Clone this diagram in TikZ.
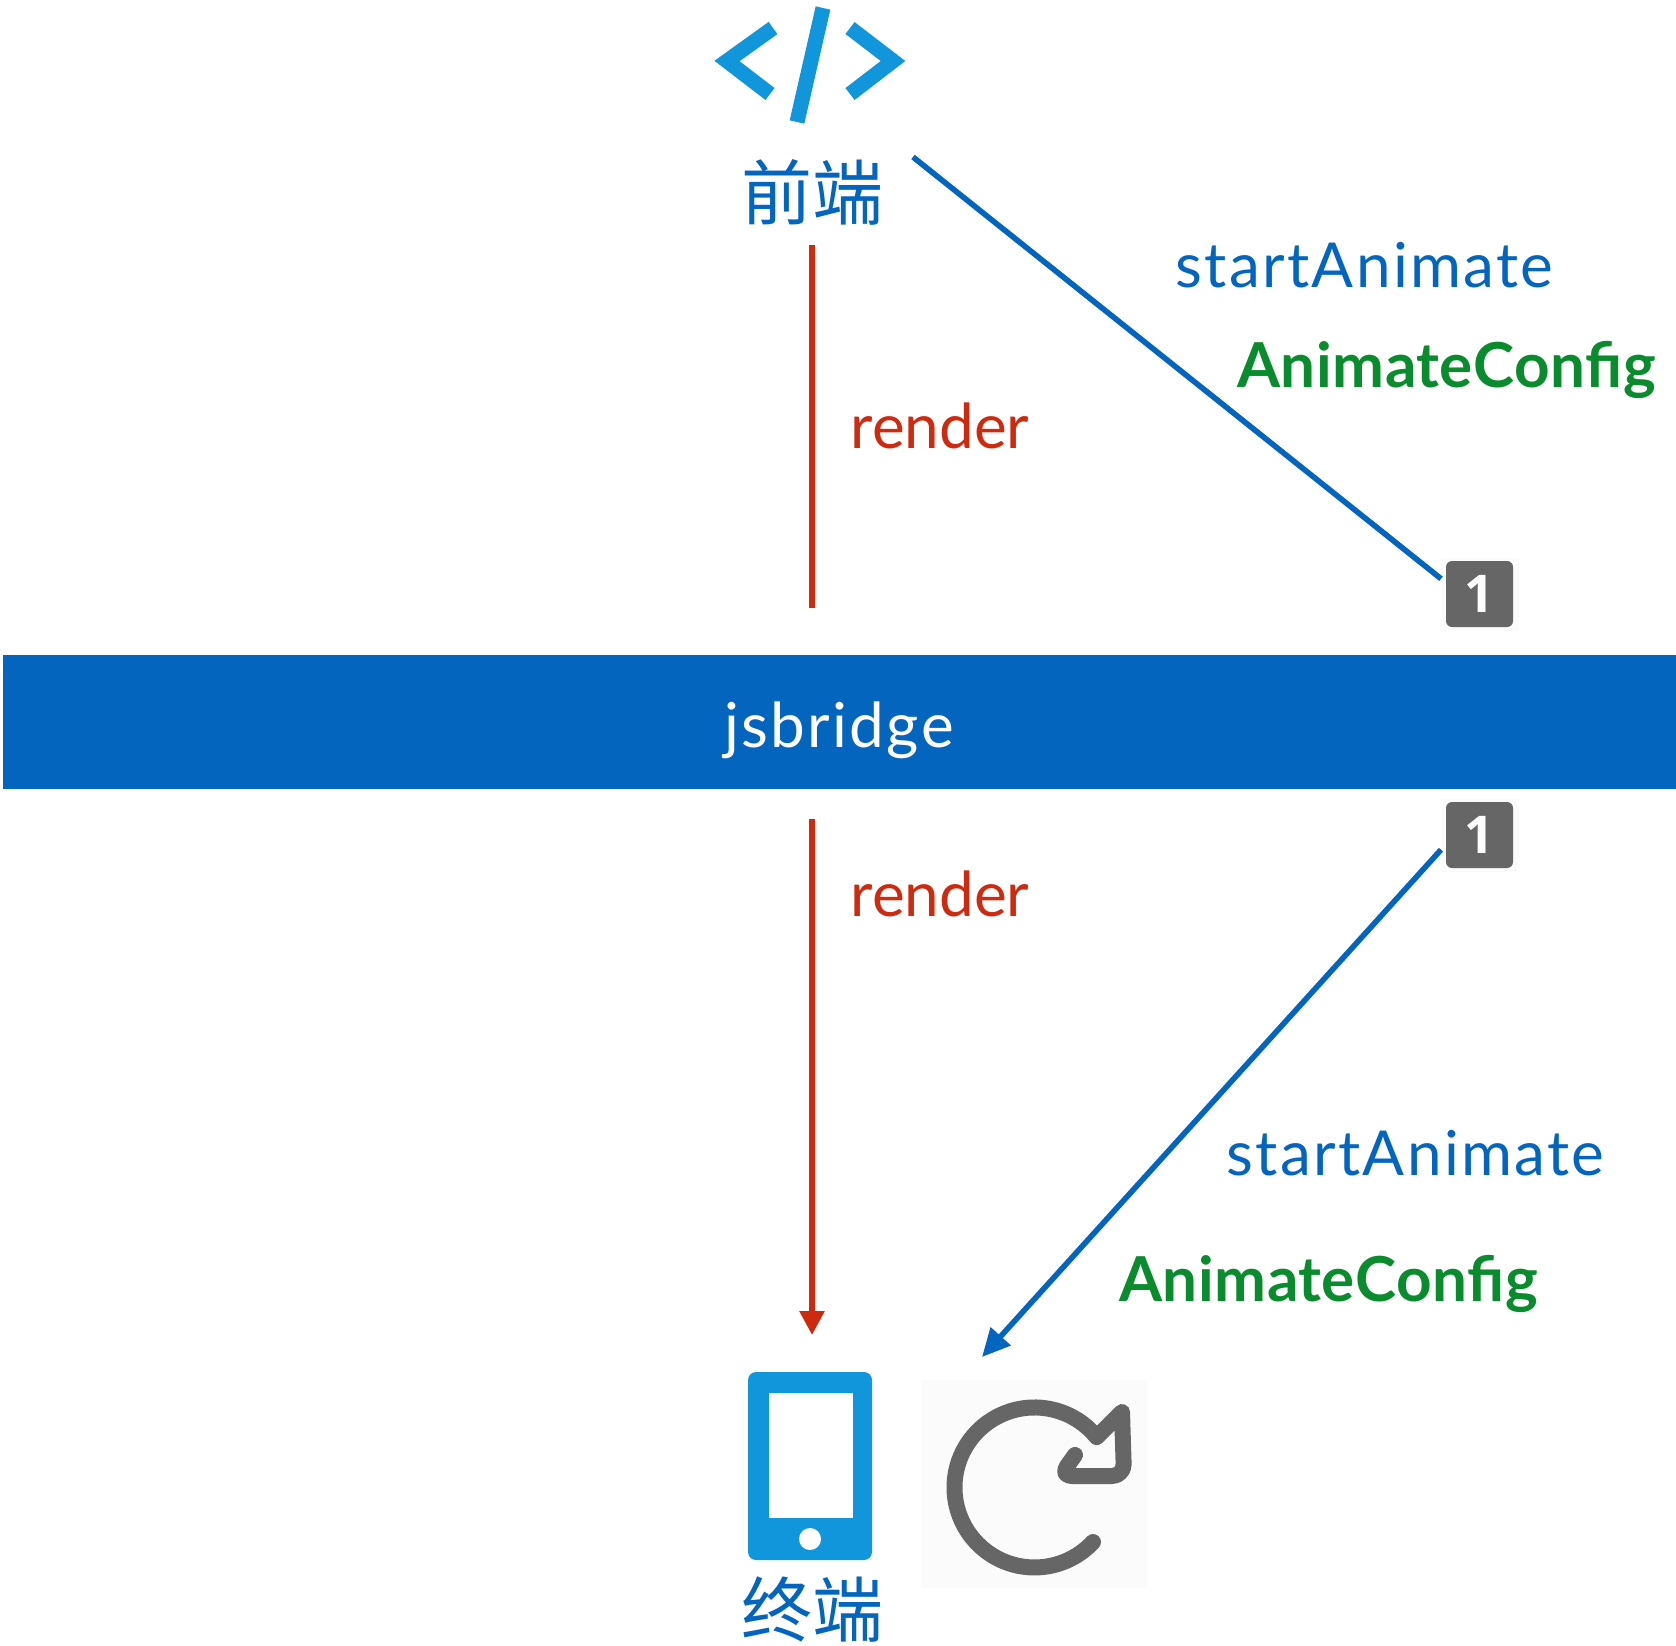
\documentclass[tikz,border=0pt]{standalone}
\usepackage{fontspec}
\setmainfont{Lato}
\newfontfamily\cjkfont{Noto Sans CJK SC}
\newfontfamily\spacedfont[LetterSpace=3.8]{Lato}
\newfontfamily\configfont[LetterSpace=0.8]{Lato}
\newfontfamily\digitfont{Open Sans}
\usetikzlibrary{arrows.meta}
\definecolor{barblue}{HTML}{0465BF}
\definecolor{iconblue}{HTML}{1296DB}
\definecolor{renderred}{HTML}{CD2A10}
\definecolor{configgreen}{HTML}{0A8C2E}
\definecolor{badgegray}{HTML}{666666}
\definecolor{faintbg}{HTML}{FBFBFB}
\tikzset{
  call_txt/.style={text=barblue, font=\spacedfont\fontsize{31}{31}\selectfont},
  render_txt/.style={text=renderred, font=\fontsize{31}{31}\selectfont},
  config_txt/.style={text=configgreen, font=\configfont\bfseries\fontsize{31}{31}\selectfont},
  end_txt/.style={text=barblue, font=\cjkfont\fontsize{35.5}{35.5}\selectfont},
  render_line/.style={draw=renderred, line width=2.8pt},
  call_line/.style={draw=barblue, line width=2.8pt},
  badge_bg/.style={fill=faintbg, minimum width=39pt, minimum height=36.5pt},
  badge_in/.style={fill=badgegray, rounded corners=3pt, minimum width=33.5pt, minimum height=33pt,
    text=white, font=\digitfont\bfseries\fontsize{26}{26}\selectfont},
  icon_line/.style={draw=iconblue, line width=7.5pt},
  reload_line/.style={draw=badgegray, line width=8pt, line cap=round, line join=round}
}
\begin{document}
\begin{tikzpicture}[
    x=0.5pt, y=-0.5pt,
    every node/.style={inner sep=0pt, outer sep=0pt}
  ]
  \useasboundingbox (0,0) rectangle (1676,1645);
  % middle bar
  \node (bar) [fill=barblue, minimum width=836.5pt, minimum height=67pt] at (839.5,722) {};
  \node (bar_txt) [text=white, font=\spacedfont\fontsize{31}{31}\selectfont] at (839,730) {jsbridge};
  % front end
  \draw [icon_line] (773,28) -- (727,61) -- (770,94);
  \draw [icon_line] (850,28) -- (893,61) -- (850,94);
  \draw [icon_line] (823,8) -- (797,122);
  \node (fe_label) [end_txt, minimum height=53pt] at (812,192) {前端};
  \coordinate (fe_out) at (913,157);
  % badges
  \node (badge_top) [badge_bg] at (1480,594.5) {};
  \node (badge_top_in) [badge_in] at (1479.5,594) {1};
  \node (badge_bot) [badge_bg] at (1480,835.5) {};
  \node (badge_bot_in) [badge_in] at (1479.5,835) {1};
  % terminal
  \node (phone) [fill=iconblue, rounded corners=4pt, minimum width=62pt, minimum height=94pt] at (810,1466) {};
  \node (screen) [fill=white, minimum width=42pt, minimum height=62.5pt] at (811,1455.5) {};
  \node (button) [fill=white, circle, minimum size=11pt] at (810,1539) {};
  \node (te_label) [end_txt] at (812,1610) {终端};
  % reload icon
  \node (reload) [fill=faintbg, minimum width=112.5pt, minimum height=104pt] at (1034.5,1484) {};
  \coordinate (reload_in) at (982,1357);
  \draw [reload_line] (1093,1542) arc [start angle=43, end angle=321, radius=80]
    -- (1122,1412) [rounded corners=6pt] -- (1124,1476) -- (1060,1476) [sharp corners] -- (1075,1455);
  % connectors
  \draw [render_line, shorten >=23.5pt] (fe_label.south) -- (fe_label.south |- bar.north);
  \draw [render_line, shorten <=15pt, shorten >=18.5pt, -{Triangle[length=12pt, width=12pt]}]
    (bar.south -| fe_label) -- (phone.north -| fe_label);
  \draw [call_line] (fe_out) -- (badge_top.158);
  \draw [call_line, -{Triangle[length=14pt, width=13pt]}] (badge_bot.200) -- (reload_in);
  % labels
  \node (render_top) [render_txt] at (940,426) {render};
  \node (render_bot) [render_txt] at (940,894) {render};
  \node (call_top) [call_txt] at (1364.5,265) {startAnimate};
  \node (config_top) [config_txt] at (1446.5,370) {AnimateConfig};
  \node (call_bot) [call_txt] at (1415.5,1153) {startAnimate};
  \node (config_bot) [config_txt] at (1328.5,1284) {AnimateConfig};
\end{tikzpicture}
\end{document}
